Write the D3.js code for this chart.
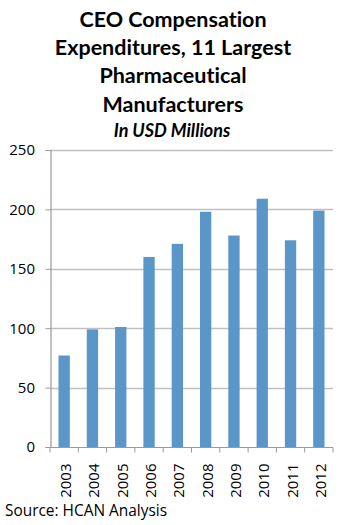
<!DOCTYPE html>
<html>
<head>
<meta charset="utf-8">
<script src="https://cdn.jsdelivr.net/npm/d3@7"></script>
<style>
html,body{margin:0;padding:0;background:#fff;}
svg{display:block;}
text{font-variant-ligatures:none;}
</style>
</head>
<body>
<svg id="chart" width="349" height="525"></svg>
<script>
const titleLines = ["CEO Compensation", "Expenditures, 11 Largest", "Pharmaceutical", "Manufacturers"];
const subtitle = "In USD Millions";
const source = "Source: HCAN Analysis";
const years = ["2003","2004","2005","2006","2007","2008","2009","2010","2011","2012"];
const values = [77, 99, 101, 160, 171, 198, 178, 209, 174, 199];
const yTicks = [0, 50, 100, 150, 200, 250];

const svg = d3.select("#chart");
const margin = {left: 50, right: 16, top: 150, bottom: 78};
const W = 349, H = 525;
const x = d3.scaleBand().domain(years).range([margin.left, W - margin.right]).paddingInner(0.6).paddingOuter(0.3);
const y = d3.scaleLinear().domain([0, 250]).range([H - margin.bottom, margin.top]);

// title
const titleY = [27, 55, 83, 112];
svg.selectAll("text.title").data(titleLines).join("text")
  .attr("class","title")
  .attr("x", 173).attr("y", (d,i) => titleY[i])
  .attr("text-anchor","middle")
  .style("font-family","Lato, 'Open Sans', sans-serif")
  .style("font-weight","bold").style("font-size","21.5px").style("fill","#000")
  .text(d => d);
svg.append("text").attr("x",172).attr("y",137).attr("text-anchor","middle")
  .style("font-family","Lato, sans-serif").style("font-weight","bold").style("font-style","italic")
  .style("font-size","18px").text(subtitle);

// gridlines
svg.append("g").selectAll("line").data(yTicks.filter(d => d > 0)).join("line")
  .attr("x1", margin.left).attr("x2", W - margin.right)
  .attr("y1", d => Math.round(y(d)) + 0.5).attr("y2", d => Math.round(y(d)) + 0.5)
  .attr("stroke","#c0c0c0").attr("stroke-width",1.3);

// y axis
const yAxis = svg.append("g").attr("transform",`translate(${margin.left + 0.5},0)`)
  .call(d3.axisLeft(y).tickValues(yTicks).tickSize(5).tickPadding(10.5));
yAxis.select(".domain").attr("stroke","#9a9a9a").attr("stroke-width",1.2);
yAxis.selectAll(".tick line").attr("stroke","#9a9a9a");
yAxis.selectAll("text").style("font-family","'Open Sans', sans-serif").style("font-size","15px").attr("fill","#000");

// bars
svg.append("g").selectAll("rect").data(values).join("rect")
  .attr("x", (d,i) => x(years[i]))
  .attr("width", x.bandwidth())
  .attr("y", d => y(d))
  .attr("height", d => y(0) - y(d))
  .attr("fill","#5b96c8");

// x axis
const xg = svg.append("g").attr("transform",`translate(0,${Math.round(y(0)) + 0.5})`);
xg.append("line").attr("x1", margin.left).attr("x2", W - margin.right)
  .attr("stroke","#9a9a9a").attr("stroke-width",1.2);
const boundaries = years.map((d,i) => i).concat([years.length]);
xg.selectAll("line.tk").data(boundaries).join("line").attr("class","tk")
  .attr("x1", i => margin.left + i * (W - margin.left - margin.right) / years.length)
  .attr("x2", i => margin.left + i * (W - margin.left - margin.right) / years.length)
  .attr("y1", 0).attr("y2", 5).attr("stroke","#9a9a9a");
xg.selectAll("text").data(years).join("text")
  .attr("transform", d => `translate(${x(d) + x.bandwidth()/2 + 7},16) rotate(-90)`)
  .attr("text-anchor","end")
  .style("font-family","'Open Sans', sans-serif").style("font-size","15px").attr("fill","#000")
  .text(d => d);

// source
svg.append("text").attr("x",5).attr("y",515.5)
  .attr("textLength",162).attr("lengthAdjust","spacingAndGlyphs")
  .style("font-family","'Open Sans', sans-serif").style("font-size","16px").text(source);
</script>
</body>
</html>
